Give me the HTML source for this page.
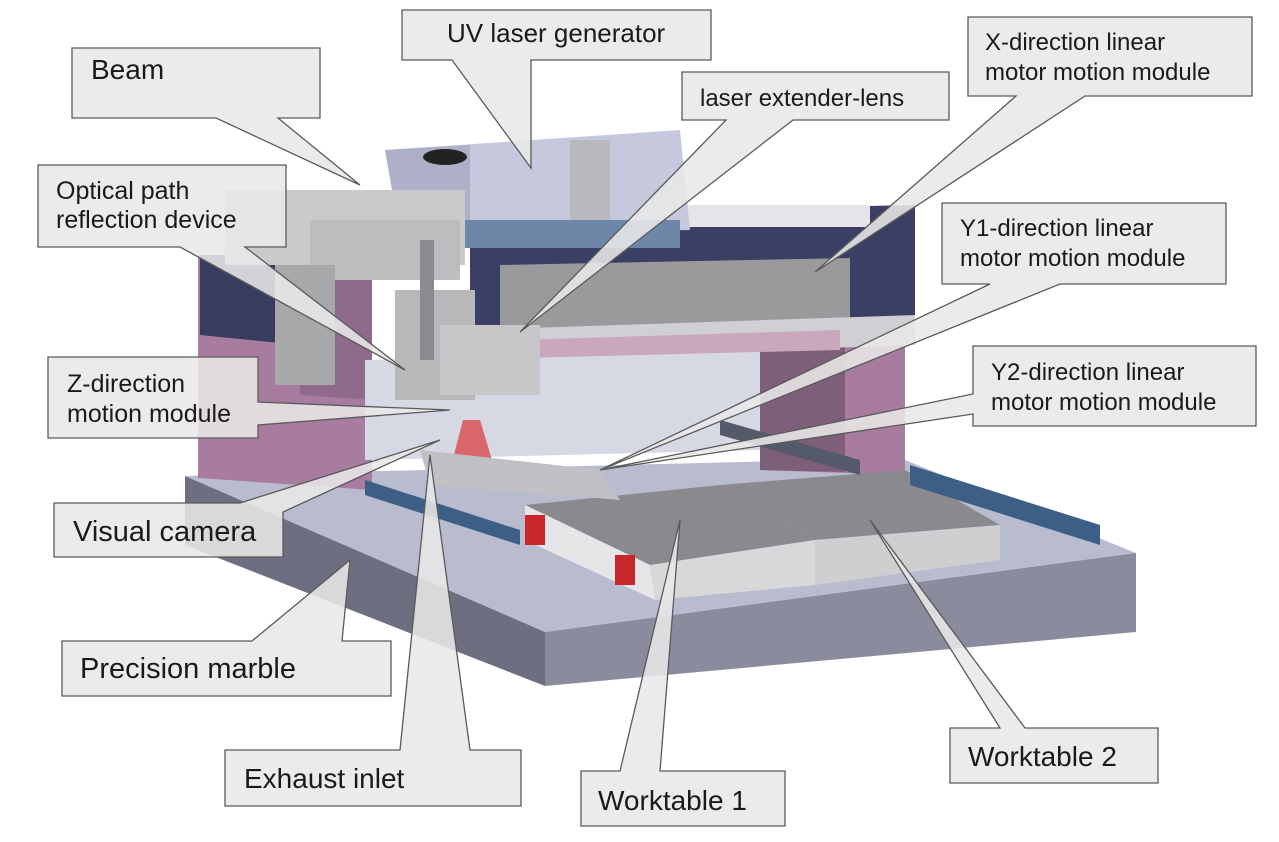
<!DOCTYPE html>
<html><head><meta charset="utf-8"><style>
html,body{margin:0;padding:0;background:#fff;}
svg{display:block;}
text{font-family:"Liberation Sans",Arial,sans-serif;fill:#1a1a1a;}
</style></head><body>
<svg width="1279" height="842" viewBox="0 0 1279 842" xmlns="http://www.w3.org/2000/svg">
<rect width="1279" height="842" fill="#fff"/>
<polygon points="185,476 900,458 1136,553 545,632" fill="#b9bccf"/>
<polygon points="545,632 1136,553 1136,632 545,686" fill="#8a8b9c"/>
<polygon points="185,476 545,632 545,686 185,545" fill="#6d6e80"/>
<polygon points="198,255 372,255 372,490 198,478" fill="#a87c9f"/>
<polygon points="200,255 300,255 300,345 200,335" fill="#383d5e"/>
<polygon points="300,255 372,262 372,400 300,395" fill="#8f6a8c"/>
<polygon points="760,340 905,330 905,475 760,470" fill="#a87c9f"/>
<polygon points="760,340 845,345 845,472 760,470" fill="#7d5f7a"/>
<polygon points="365,360 760,350 760,450 365,460" fill="#d6d8e4"/>
<polygon points="470,215 915,205 915,330 470,345" fill="#3b3f63"/>
<polygon points="500,265 850,258 850,318 500,330" fill="#9a9a9c"/>
<polygon points="470,330 915,315 915,345 470,360" fill="#cfcfd4"/>
<polygon points="520,340 840,330 840,350 520,358" fill="#c9a7bd"/>
<rect x="470" y="205" width="400" height="22" fill="#e4e4ea"/>
<polygon points="385,150 680,130 690,230 400,235" fill="#c6c8de"/>
<polygon points="385,150 470,145 470,235 400,235" fill="#aeb0c8"/>
<ellipse cx="445" cy="157" rx="22" ry="8" fill="#222"/>
<rect x="570" y="140" width="40" height="80" fill="#b9b9bd"/>
<rect x="430" y="220" width="250" height="28" fill="#6e86a8"/>
<rect x="225" y="190" width="240" height="75" fill="#cacacc"/>
<rect x="310" y="220" width="150" height="60" fill="#bdbdc0"/>
<rect x="275" y="265" width="60" height="120" fill="#a8a8ab"/>
<rect x="395" y="290" width="80" height="110" fill="#b8b8bb"/>
<rect x="440" y="325" width="100" height="70" fill="#c7c7ca"/>
<rect x="420" y="240" width="14" height="120" fill="#8a8a90"/>
<polygon points="463,420 480,420 495,470 450,470" fill="#d94b4b" opacity="0.8"/>
<polygon points="525,505 720,485 815,540 650,565" fill="#8a8a8e"/>
<polygon points="720,485 905,470 1000,525 815,540" fill="#8a8a8e"/>
<polygon points="650,565 815,540 815,585 655,600" fill="#d8d8da"/>
<polygon points="815,540 1000,525 1000,560 815,585" fill="#cfcfd1"/>
<polygon points="525,505 650,565 655,600 525,540" fill="#e6e6e8"/>
<rect x="525" y="515" width="20" height="30" fill="#c8262a"/>
<rect x="615" y="555" width="20" height="30" fill="#c8262a"/>
<polygon points="365,480 520,530 520,545 365,495" fill="#3d5f86"/>
<polygon points="910,465 1100,525 1100,545 910,485" fill="#3d5f86"/>
<polygon points="720,420 860,460 860,475 720,435" fill="#555a6a"/>
<polygon points="420,450 600,470 620,500 430,485" fill="#c0c0c4"/>
<g fill="#e8e8e8" fill-opacity="0.88" stroke="#5a5a5a" stroke-width="1.3">
<polygon points="72,48 320,48 320,118 278,118 360,185 216,118 72,118"/>
<polygon points="402,10 711,10 711,60 531,60 531,168 452,60 402,60"/>
<polygon points="682,72 949,72 949,120 793,120 520,332 726,120 682,120"/>
<polygon points="968,17 1252,17 1252,96 1085,96 815,272 1016,96 968,96"/>
<polygon points="942,203 1226,203 1226,284 1060,284 600,470 990,284 942,284"/>
<polygon points="973,346 1256,346 1256,426 973,426 973,414 600,470 973,394"/>
<polygon points="38,165 286,165 286,247 245,247 405,370 180,247 38,247"/>
<polygon points="48,357 258,357 258,402 450,410 258,425 258,438 48,438"/>
<polygon points="54,503 240,503 440,440 283,512 283,557 54,557"/>
<polygon points="62,641 252,641 350,560 342,641 391,641 391,696 62,696"/>
<polygon points="225,750 400,750 430,455 470,750 521,750 521,806 225,806"/>
<polygon points="581,771 620,771 680,520 660,771 785,771 785,826 581,826"/>
<polygon points="950,728 1000,728 870,520 1025,728 1158,728 1158,783 950,783"/>
</g>
<g>
<text x="91" y="79" font-size="28">Beam</text>
<text x="447" y="42" font-size="26">UV laser generator</text>
<text x="700" y="106" font-size="24" fill="#333">laser extender-lens</text>
<text x="985" y="50" font-size="24">X-direction linear</text>
<text x="985" y="80" font-size="24">motor motion module</text>
<text x="960" y="236" font-size="24">Y1-direction linear</text>
<text x="960" y="266" font-size="24">motor motion module</text>
<text x="991" y="380" font-size="24">Y2-direction linear</text>
<text x="991" y="410" font-size="24">motor motion module</text>
<text x="56" y="199" font-size="25">Optical path</text>
<text x="56" y="228" font-size="25">reflection device</text>
<text x="67" y="392" font-size="25">Z-direction</text>
<text x="67" y="422" font-size="25">motion module</text>
<text x="73" y="541" font-size="29">Visual camera</text>
<text x="80" y="678" font-size="29">Precision marble</text>
<text x="244" y="788" font-size="28">Exhaust inlet</text>
<text x="598" y="810" font-size="28">Worktable  1</text>
<text x="968" y="766" font-size="28">Worktable  2</text>
</g>
</svg>
</body></html>
